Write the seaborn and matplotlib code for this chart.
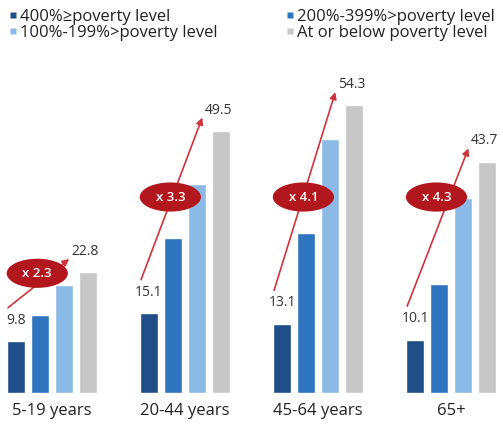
import matplotlib
matplotlib.use("Agg")
import matplotlib.pyplot as plt
from matplotlib.patches import Ellipse
from matplotlib.lines import Line2D
import seaborn as sns
import pandas as pd

# Age groups and income bands (percent of poverty level)
age_groups = ["5-19 years", "20-44 years", "45-64 years", "65+"]
income_levels = [
    "400%\u2265poverty level",
    "200%-399%>poverty level",
    "100%-199%>poverty level",
    "At or below poverty level",
]
above_400 = [9.8, 15.1, 13.1, 10.1]
pct_200_399 = [14.7, 29.3, 30.2, 20.6]
pct_100_199 = [20.3, 39.5, 48.0, 36.8]
at_or_below = [22.8, 49.5, 54.3, 43.7]

colors = ["#1f4e89", "#2e74bf", "#8cbae7", "#c7c7c7"]

sns.set_theme(style="white")
plt.rcParams["font.family"] = ["Open Sans", "DejaVu Sans"]

rows = []
for series, level in zip([above_400, pct_200_399, pct_100_199, at_or_below], income_levels):
    for age, v in zip(age_groups, series):
        rows.append({"age": age, "level": level, "value": v})
df = pd.DataFrame(rows)

fig = plt.figure(figsize=(5.03, 4.26), dpi=100)
ax = fig.add_axes([0.0, 33 / 426, 1.0, 393 / 426])

sns.barplot(data=df, x="age", y="value", hue="level", order=age_groups,
            hue_order=income_levels, palette=colors, saturation=1,
            width=0.72, gap=0.25, legend=False, ax=ax)

ax.set_xlim(-0.39, 3.39)
ax.set_ylim(0, 74.2)
ax.set_xlabel("")
ax.set_ylabel("")
ax.set_yticks([])
for s in ax.spines.values():
    s.set_visible(False)
ax.tick_params(axis="x", length=0, pad=7, labelsize=12, labelcolor="#222222")

slot = 0.18
first_off = -1.5 * slot
last_off = 1.5 * slot
label_kw = dict(textcoords="offset points", ha="center", va="bottom",
                fontsize=10, color="#333333")
badge_y = [22.6, 37.0, 37.0, 37.0]

for i, (lo, hi) in enumerate(zip(above_400, at_or_below)):
    # values over the first and last bars
    ax.annotate(f"{lo}", (i + first_off, lo), xytext=(0, 9.5), **label_kw)
    ax.annotate(f"{hi}", (i + last_off - 0.02, hi), xytext=(0, 9.5), **label_kw)
    # rising arrow from lowest to highest income band
    ax.annotate("", xy=(i + 0.13, hi + 2.5), xytext=(i - 0.33, lo + 6.3),
                arrowprops=dict(arrowstyle="-|>", color="#d0343a", lw=1.2,
                                mutation_scale=10, shrinkA=0, shrinkB=0),
                zorder=4)
    ratio = round(hi / lo, 1)
    ax.add_patch(Ellipse((i - 0.11, badge_y[i]), width=0.46, height=5.5,
                         facecolor="#b2171d", edgecolor="none", zorder=5))
    ax.text(i - 0.11, badge_y[i], f"x {ratio}", ha="center", va="center",
            color="white", fontsize=9.5, fontweight="semibold", zorder=6)

handles = [Line2D([], [], marker="s", linestyle="none", markersize=5,
                  markerfacecolor=c, markeredgecolor="none") for c in colors]
order = [0, 2, 1, 3]
fig.legend([handles[k] for k in order], [income_levels[k] for k in order],
           ncol=2, loc="upper left", bbox_to_anchor=(0.0, 1.0), frameon=False,
           fontsize=12, handlelength=0.45, handletextpad=0.2,
           columnspacing=4.1, labelspacing=0.0, borderaxespad=0.15,
           labelcolor="#222222")

fig.savefig("out.png", dpi=100, facecolor="white")
